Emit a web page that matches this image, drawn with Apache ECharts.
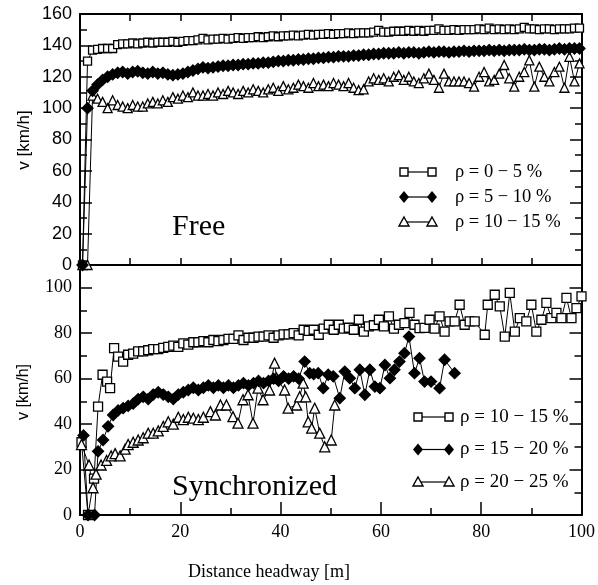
<!DOCTYPE html>
<html><head><meta charset="utf-8">
<script src="https://cdn.jsdelivr.net/npm/echarts@6/dist/echarts.min.js"></script>
<style>html,body{margin:0;padding:0;background:#fff}#c{width:598px;height:585px}</style>
</head><body><div id="c"></div>
<script>
// ---------- DATA ----------
const xTicks = [0, 20, 40, 60, 80, 100];
const topYTicks = [0, 20, 40, 60, 80, 100, 120, 140, 160];
const botYTicks = [0, 20, 40, 60, 80, 100];
const topLegend = ['ρ = 0 − 5 %', 'ρ = 5 − 10 %', 'ρ = 10 − 15 %'];
const botLegend = ['ρ = 10 − 15 %', 'ρ = 15 − 20 %', 'ρ = 20 − 25 %'];

// Free flow panel: [distance headway m, speed km/h]
const freeSq = [[0.5,0],[1.5,130],[2.5,137],[3.5,137.5],[4.5,138],[5.5,138],[6.5,138],[7.5,140.5],[8.5,141],[9.5,141],[10.5,141.5],[11.5,141],[12.5,141.5],[13.5,142],[14.5,141.5],[15.5,142],[16.5,142],[17.5,142],[18.5,142.5],[19.5,142],[20.5,142.5],[21.5,143],[22.5,143],[23.5,143.5],[24.5,144.5],[25.5,143.5],[26.5,144],[27.5,144],[28.5,144.5],[29.5,144],[30.5,144.5],[31.5,145],[32.5,144.5],[33.5,145],[34.5,145],[35.5,145.5],[36.5,145],[37.5,145.5],[38.5,146],[39.5,145.5],[40.5,146],[41.5,146],[42.5,146.5],[43.5,146],[44.5,146.5],[45.5,147],[46.5,146.5],[47.5,147],[48.5,147],[49.5,147.5],[50.5,147],[51.5,147.5],[52.5,147.5],[53.5,148],[54.5,147.5],[55.5,148],[56.5,148],[57.5,148],[58.5,148.5],[59.5,149.5],[60.5,148.5],[61.5,148.5],[62.5,149],[63.5,149],[64.5,149],[65.5,149.5],[66.5,149],[67.5,149.5],[68.5,149],[69.5,149.5],[70.5,149.5],[71.5,150.5],[72.5,149.5],[73.5,149.5],[74.5,150],[75.5,149.5],[76.5,150],[77.5,150],[78.5,150],[79.5,150.5],[80.5,150],[81.5,151],[82.5,150],[83.5,150.5],[84.5,150],[85.5,150.5],[86.5,150],[87.5,150.5],[88.5,151.5],[89.5,150.5],[90.5,150.5],[91.5,150],[92.5,150.5],[93.5,150.5],[94.5,150],[95.5,150.5],[96.5,150.5],[97.5,150.5],[98.5,151],[99.5,151]];
const freeDi = [[0.5,0],[1.5,100],[2.5,111],[3.5,115],[4.5,118],[5.5,120],[6.5,121.5],[7.5,122.5],[8.5,123],[9.5,122],[10.5,123],[11.5,123.5],[12.5,122.5],[13.5,122],[14.5,123],[15.5,122],[16.5,122.5],[17.5,121.5],[18.5,121],[19.5,121.5],[20.5,122],[21.5,123],[22.5,124],[23.5,125],[24.5,126],[25.5,125.5],[26.5,126],[27.5,126.5],[28.5,127],[29.5,127],[30.5,127.5],[31.5,127.5],[32.5,128],[33.5,128],[34.5,128.5],[35.5,128.5],[36.5,129],[37.5,129],[38.5,129.5],[39.5,130],[40.5,130],[41.5,130.5],[42.5,130.5],[43.5,131],[44.5,131],[45.5,131.5],[46.5,131.5],[47.5,132],[48.5,132],[49.5,132.5],[50.5,132.5],[51.5,133],[52.5,133],[53.5,133],[54.5,133.5],[55.5,133.5],[56.5,134],[57.5,134],[58.5,134.5],[59.5,134.5],[60.5,135],[61.5,135],[62.5,135],[63.5,135.5],[64.5,135],[65.5,135.5],[66.5,135.5],[67.5,135],[68.5,135.5],[69.5,136],[70.5,135.5],[71.5,136],[72.5,136],[73.5,135.5],[74.5,136],[75.5,136],[76.5,136.5],[77.5,136],[78.5,136.5],[79.5,136.5],[80.5,136.5],[81.5,137],[82.5,136.5],[83.5,137],[84.5,136.5],[85.5,137],[86.5,137],[87.5,137],[88.5,137.5],[89.5,137],[90.5,137],[91.5,137.5],[92.5,137.5],[93.5,137],[94.5,137.5],[95.5,138],[96.5,137.5],[97.5,138],[98.5,138],[99.5,138]];
const freeTr = [[0.5,0],[1.5,0],[2.5,108],[3.5,106],[4.5,104],[5.5,100],[6.5,105],[7.5,102],[8.5,101],[9.5,100],[10.5,102],[11.5,101],[12.5,101],[13.5,103],[14.5,104],[15.5,103],[16.5,105],[17.5,104],[18.5,107],[19.5,106],[20.5,108],[21.5,107],[22.5,110],[23.5,108],[24.5,108],[25.5,109],[26.5,108],[27.5,110],[28.5,109],[29.5,111],[30.5,110],[31.5,109],[32.5,111],[33.5,110],[34.5,112],[35.5,111],[36.5,110],[37.5,112],[38.5,113],[39.5,111],[40.5,114],[41.5,112],[42.5,113],[43.5,115],[44.5,114],[45.5,113],[46.5,116],[47.5,114],[48.5,115],[49.5,114],[50.5,116],[51.5,115],[52.5,114],[53.5,116],[54.5,113],[55.5,111.5],[56.5,112],[57.5,117],[58.5,119],[59.5,118],[60.5,119],[61.5,117],[62.5,120],[63.5,121],[64.5,118],[65.5,120],[66.5,117],[67.5,116],[68.5,119],[69.5,122],[70.5,118],[71.5,113],[72.5,122],[73.5,117],[74.5,117],[75.5,117],[76.5,117],[77.5,116],[78.5,113.7],[79.5,120],[80.5,123],[81.5,117],[82.5,118],[83.5,122],[84.5,127.5],[85.5,119],[86.5,113.7],[87.5,120],[88.5,123],[89.5,130.5],[90.5,113.7],[91.5,126.4],[92.5,120],[93.5,117],[94.5,123],[95.5,126.4],[96.5,113],[97.5,132.7],[98.5,117],[99.5,128.5]];

// Synchronized panel
const syncSq = [[0.3,32],[1.6,0],[2.8,16],[3.6,47.7],[4.5,61.7],[5.4,58.7],[6,55.8],[6.8,73.4],[7.6,69.7],[8.6,67.5],[9.6,70.5],[10.6,71],[11.6,72],[12.6,72],[13.6,72.5],[14.6,73],[15.6,73],[16.6,73.5],[17.6,74],[18.6,74.5],[19.6,74],[20.6,75.5],[21.6,75],[22.6,76],[23.6,76],[24.6,76.5],[25.6,76],[26.6,77],[27.6,76.5],[28.6,77],[29.6,77.5],[30.6,77.5],[31.6,79],[32.6,77],[33.6,78],[34.6,78],[35.6,78.5],[36.6,78.5],[37.6,79],[38.6,78],[39.6,79],[40.6,79.5],[41.6,79.5],[42.6,80],[43.6,79],[44.6,81.5],[45.6,81],[46.6,81.5],[47.6,79.3],[48.6,82],[49.6,83.7],[50.6,81.5],[51.6,83.7],[52.6,82],[53.6,82.4],[54.6,81.5],[55.6,85.9],[56.6,80.7],[57.6,83],[58.6,83.5],[59.6,85.9],[60.6,83],[61.6,87.4],[62.6,82],[63.6,83.7],[64.7,84.4],[65.7,88.9],[66.7,83.7],[67.7,82.2],[68.7,82.3],[69.7,85.9],[70.7,82],[71.7,87.4],[72.7,80.7],[73.7,85.2],[74.7,85.2],[75.7,92.5],[76.7,83.7],[77.7,85.2],[78.7,85.2],[80.7,79.3],[81.3,92.5],[82.7,96.9],[83.7,91.8],[84.7,78.5],[85.7,97.7],[86.7,80.7],[87.7,86.6],[89,85.2],[90,92.5],[91,80.7],[92,85.9],[93,93.3],[94,86.6],[95,88.9],[96,86.6],[97,95.5],[98,86.6],[99,91],[100,96.2]];
const syncDi = [[0.7,35],[1.6,0],[2.9,0],[3.6,28],[4.6,33],[5.6,39],[6.6,44],[7.6,46],[8.6,47],[9.6,48],[10.6,49],[11.6,51],[12.6,52],[13.6,51],[14.6,53],[15.6,54],[16.6,53],[17.6,52],[18.6,51],[19.6,53],[20.6,54],[21.6,55],[22.6,56],[23.6,55],[24.6,56],[25.6,57],[26.6,56],[27.6,57],[28.6,56],[29.6,57],[30.6,56],[31.6,57],[32.6,58],[33.6,57],[34.6,58],[35.6,59],[36.6,58],[37.6,59],[38.6,60],[39.6,59],[40.6,61],[41.6,60],[42.6,61],[43.6,60],[44.8,67.5],[45.8,62.4],[46.6,62],[47.5,62.4],[48.5,55.8],[49.5,61.7],[50.5,61],[51.8,51.4],[52.8,63.1],[53.8,60.2],[54.8,55.8],[55.8,63.9],[56.8,52.9],[57.8,63.9],[58.8,56.5],[59.8,55.8],[60.8,66],[61.8,60.2],[62.7,63.9],[63.7,67.5],[64.7,71.2],[65.6,78.5],[66.7,62.4],[67.7,69],[68.7,58.7],[70,58.7],[71.7,55.8],[72.7,68.3],[74.7,62.4]];
const syncTr = [[0.3,31],[1.8,22],[2.6,12],[3.2,18],[4.2,22],[5.3,24],[6.2,26],[7,27],[8,26],[9,29],[9.6,31],[10.6,32],[11.6,33],[12.6,34],[13.6,36],[14.6,36],[15.6,37],[16.6,39],[17.6,41],[18.6,40],[19.6,43],[20.6,42],[21.6,43],[22.6,42.6],[23.6,42],[24.6,43],[26,45.5],[27,44],[28,48.4],[29.2,48.4],[30.5,43.3],[31.5,40.4],[32.5,50.7],[33.5,52.9],[34.5,40.4],[35.5,55.8],[36.5,50.7],[37.8,55],[38.8,66.8],[39.2,60.3],[40.8,55],[41.5,47],[43.2,48.4],[43.8,52],[44.5,58],[45,52],[45.5,41],[46.2,38.2],[46.8,47],[47.8,36],[48.8,30],[50.1,33],[50.8,48.4]];

// ---------- CHART ----------
const chart = echarts.init(document.getElementById('c'), null, {renderer: 'canvas'});
const L = 80, W = 502;
const sans = 'Liberation Sans', serif = 'Liberation Serif';
const axLine = {show: true, onZero: false, lineStyle: {color: '#000', width: 2}};

function xAx(gi, pos, opts) {
  return Object.assign({
    type: 'value', gridIndex: gi, position: pos, min: 0, max: 100, interval: 10,
    axisLine: axLine, splitLine: {show: false},
    axisTick: {show: true, inside: true, length: 7, lineStyle: {color: '#000', width: 1.5}},
    axisLabel: {show: false}
  }, opts || {});
}
function yAx(gi, pos, max, opts) {
  return Object.assign({
    type: 'value', gridIndex: gi, position: pos, min: 0, max: max, interval: 20,
    axisLine: axLine, splitLine: {show: false},
    axisTick: {show: true, inside: true, length: 12, lineStyle: {color: '#000', width: 1.5}},
    minorTick: {show: true, splitNumber: 2, length: 7, lineStyle: {color: '#000', width: 1.5}},
    axisLabel: {show: false}
  }, opts || {});
}
function ser(name, data, xi, yi, sym, size, filled) {
  return {
    name: name, type: 'line', xAxisIndex: xi, yAxisIndex: yi, data: data,
    symbol: sym, symbolSize: size, showAllSymbol: true, clip: false,
    lineStyle: {color: '#000', width: 1},
    itemStyle: {color: filled ? '#000' : '#fff', borderColor: '#000', borderWidth: 1.3},
    animation: false
  };
}

// legend graphics
function legendRow(x0, x1, y, sym, text, tx, fs) {
  const els = [{type: 'line', shape: {x1: x0, y1: y, x2: x1, y2: y}, style: {stroke: '#000', lineWidth: 1.2}}];
  [x0, x1].forEach(function (cx) {
    if (sym === 'sq') els.push({type: 'rect', shape: {x: cx - 4, y: y - 4, width: 8, height: 8}, style: {fill: '#fff', stroke: '#000', lineWidth: 1.4}});
    if (sym === 'di') els.push({type: 'polygon', shape: {points: [[cx, y - 6], [cx + 5, y], [cx, y + 6], [cx - 5, y]]}, style: {fill: '#000'}});
    if (sym === 'tr') els.push({type: 'polygon', shape: {points: [[cx, y - 5], [cx + 5, y + 4], [cx - 5, y + 4]]}, style: {fill: '#fff', stroke: '#000', lineWidth: 1.4}});
  });
  els.push({type: 'text', x: tx, y: y, style: {text: text, font: fs + 'px "' + serif + '"', fill: '#000', verticalAlign: 'middle', textAlign: 'left'}});
  return els;
}
const syms = ['sq', 'di', 'tr'];
let graphics = [];
topLegend.forEach(function (t, i) { graphics = graphics.concat(legendRow(404, 432, 172 + i * 25, syms[i], t, 455, 18.5)); });
botLegend.forEach(function (t, i) { graphics = graphics.concat(legendRow(418, 449, 417 + i * 32.5, syms[i], t, 460, 19)); });
graphics.push({type: 'text', x: 172, y: 227, style: {text: 'Free', font: '30px "' + serif + '"', fill: '#000', verticalAlign: 'middle'}});
graphics.push({type: 'text', x: 172, y: 487, style: {text: 'Synchronized', font: '30px "' + serif + '"', fill: '#000', verticalAlign: 'middle'}});
graphics.push({type: 'text', x: 188, y: 572, style: {text: 'Distance headway [m]', font: '18px "' + serif + '"', fill: '#000', verticalAlign: 'middle'}});
graphics.push({type: 'text', x: 24, y: 140, rotation: Math.PI / 2, style: {text: 'v [km/h]', font: '17px "' + sans + '"', fill: '#000', verticalAlign: 'middle', textAlign: 'center'}});
graphics.push({type: 'text', x: 24, y: 392, rotation: Math.PI / 2, style: {text: 'v [km/h]', font: '16px "' + sans + '"', fill: '#000', verticalAlign: 'middle', textAlign: 'center'}});

chart.setOption({
  animation: false,
  backgroundColor: '#fff',
  grid: [
    {left: L, top: 14, width: W, height: 251},
    {left: L, top: 265, width: W, height: 250}
  ],
  xAxis: [
    xAx(0, 'bottom'),
    xAx(0, 'top'),
    xAx(1, 'bottom', {
      interval: 20,
      axisTick: {show: true, inside: true, length: 13, lineStyle: {color: '#000', width: 1.5}},
      minorTick: {show: true, splitNumber: 2, length: 7, lineStyle: {color: '#000', width: 1.5}},
      axisLabel: {show: true, margin: 8, color: '#000', fontFamily: serif, fontSize: 18,
        formatter: function (v) { return xTicks.indexOf(v) >= 0 ? String(v) : ''; }}
    }),
    xAx(1, 'top', {axisTick: {show: false}})
  ],
  yAxis: [
    yAx(0, 'left', 160, {axisLabel: {show: true, margin: 8, color: '#000', fontFamily: sans, fontSize: 18,
      formatter: function (v) { return topYTicks.indexOf(v) >= 0 ? String(v) : ''; }}}),
    yAx(0, 'right', 160),
    yAx(1, 'left', 110, {axisLabel: {show: true, margin: 8, color: '#000', fontFamily: serif, fontSize: 18,
      formatter: function (v) { return botYTicks.indexOf(v) >= 0 ? String(v) : ''; }}}),
    yAx(1, 'right', 110)
  ],
  series: [
    ser('top-sq', freeSq, 0, 0, 'rect', 8, false),
    ser('top-tr', freeTr, 0, 0, 'triangle', 9, false),
    ser('top-di', freeDi, 0, 0, 'diamond', 11, true),
    ser('bot-sq', syncSq, 2, 2, 'rect', 9, false),
    ser('bot-tr', syncTr, 2, 2, 'triangle', 10, false),
    ser('bot-di', syncDi, 2, 2, 'diamond', 11, true)
  ],
  graphic: graphics
});
</script>
</body></html>
